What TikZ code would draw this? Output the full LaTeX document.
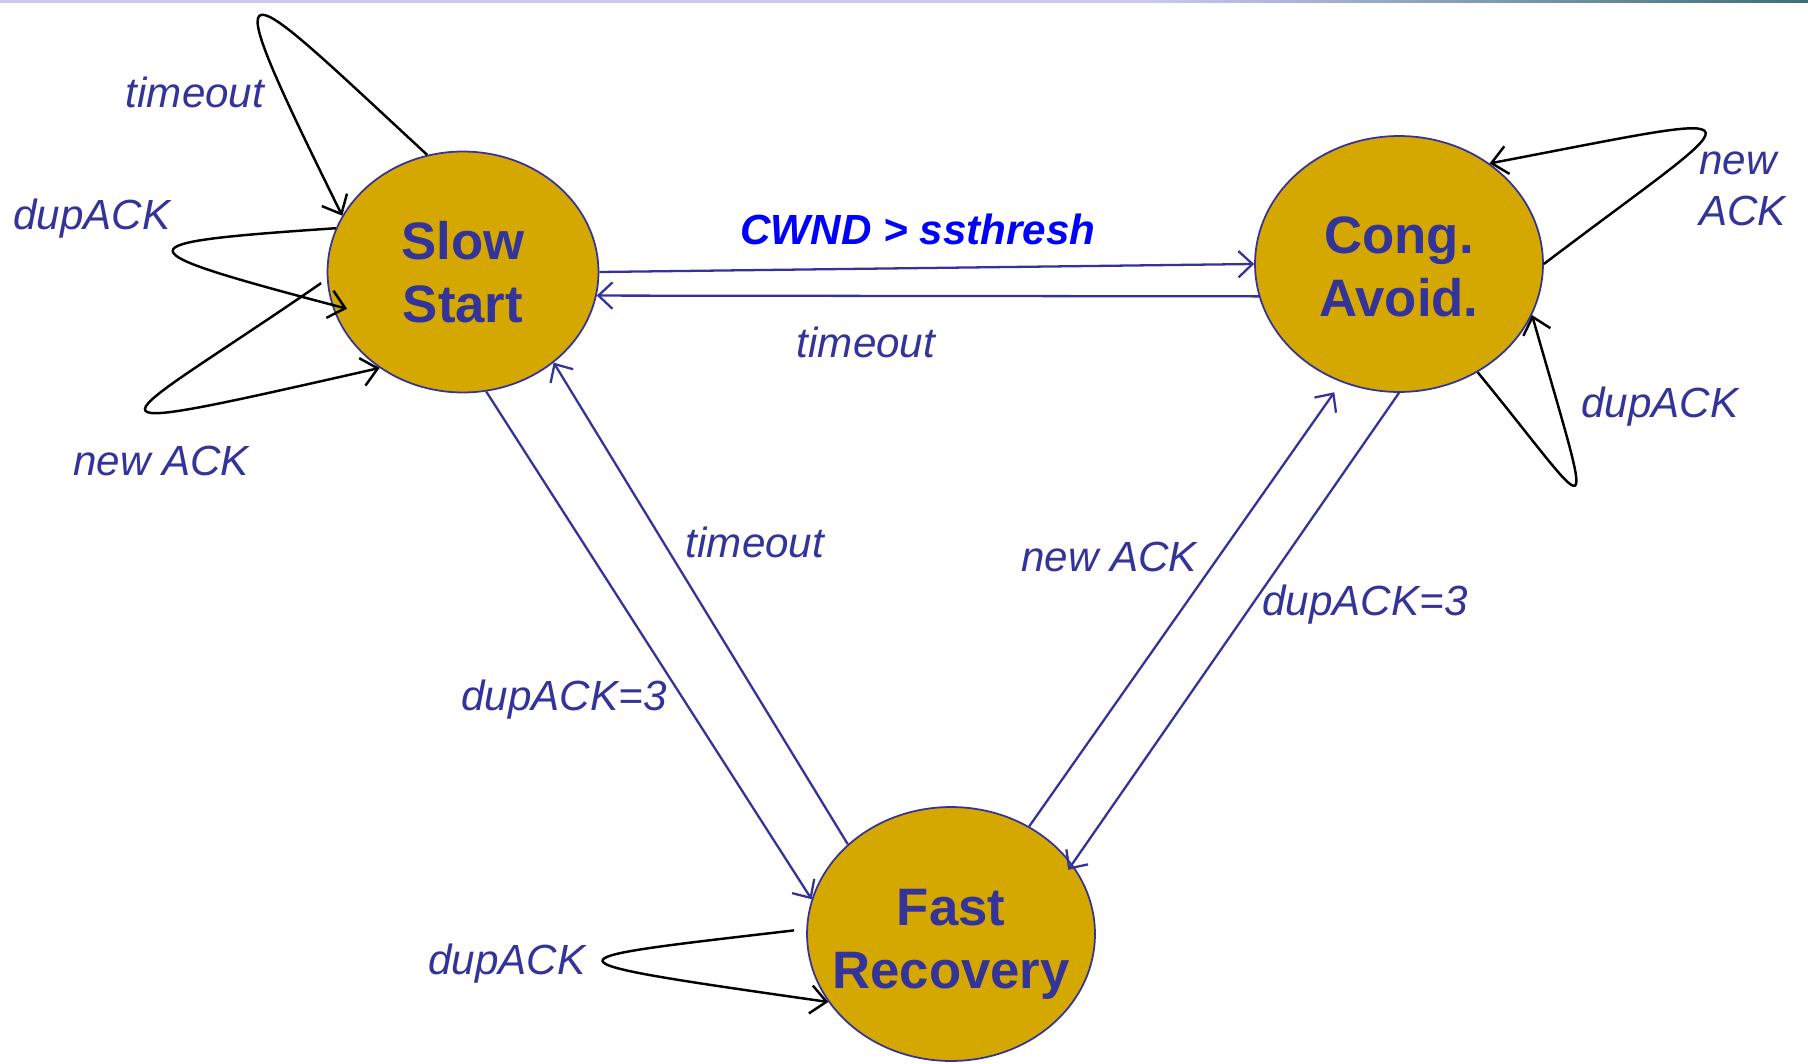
\documentclass[tikz,border=0pt]{standalone}
\usepackage{fontspec}
\setmainfont{Liberation Sans}
\usetikzlibrary{shapes.geometric,arrows.meta}
\definecolor{tcpblue}{RGB}{51,51,153}
\definecolor{tcpgold}{RGB}{212,168,0}
\definecolor{cwndblue}{RGB}{0,0,255}
\definecolor{barlilac}{RGB}{200,200,242}
\definecolor{barteal}{RGB}{60,112,116}

\begin{document}
\begin{tikzpicture}[x=0.02cm, y=-0.02cm,
    state/.style={ellipse, draw=tcpblue, line width=1pt, fill=tcpgold, inner sep=0pt},
    statetext/.style={text=tcpblue, align=center, inner sep=0pt, font=\fontsize{30}{36}\selectfont\bfseries},
    trans/.style={draw=tcpblue, line width=1.3pt, -{Straight Barb[length=8pt,width=15pt]}},
    selfloop/.style={draw=black, line width=1.4pt, -{Straight Barb[length=9pt,width=16pt]}},
    lbl/.style={text=tcpblue, align=left, inner sep=0pt, font=\fontsize{24}{29}\selectfont\itshape}]
    %Frame
    \useasboundingbox[fill=white] (0,0) rectangle (1808,1064);
    \fill[barlilac] (0,0) rectangle (1150,3);
    \shade[left color=barlilac, right color=barteal] (1150,0) rectangle (1808,3);

    %States
    \node[state, minimum width=5.42cm, minimum height=4.82cm] (ss) at (463,272) {};
    \node[state, minimum width=5.76cm, minimum height=5.12cm] (ca) at (1399,264) {};
    \node[state, minimum width=5.76cm, minimum height=5.08cm] (fr) at (951,934) {};
    \node[statetext] (sstxt) at (463,272) {Slow\\Start};
    \node[statetext] (catxt) at (1399,267) {Cong.\\Avoid.};
    \node[statetext] (frtxt) at (951,944) {Fast\\Recovery};

    %Transitions
    \draw[trans] (ss.0) -- (ca.180);
    \draw[trans] (ca.193) -- (ss.350);
    \draw[trans] (ss.281) -- (fr.166);
    \draw[trans] (fr.139) -- (ss.315);
    \draw[trans, shorten >=7pt] (fr.54) -- (ca.244);
    \draw[trans, shorten >=-4pt] (ca.270) -- (fr.30);
    \node[lbl, text=cwndblue, font=\fontsize{24}{29}\selectfont\bfseries\itshape] (cwnd) at (918,229) {CWND > ssthresh};
    \node[lbl] (catimeout) at (866,342) {timeout};
    \node[lbl] (frtimeout) at (755,542) {timeout};
    \node[lbl] (ssdup) at (564,700) {dupACK=3};
    \node[lbl] (frnew) at (1109,557) {new ACK};
    \node[lbl] (cadup) at (1365,605) {dupACK=3};

    %Self loops
    \draw[selfloop] (ss.107) .. controls (235,-23) and (206,-60) .. (ss.155);
    \draw[selfloop, shorten >=-9pt] (ss.161) .. controls (118,243) and (116,248) .. (ss.194);
    \draw[selfloop, shorten <=4pt] (ss.183) .. controls (110,429) and (44,444) .. (ss.229);
    \draw[selfloop] (ca.0) .. controls (1756,103) and (1780,108) .. (ca.48);
    \draw[selfloop] (ca.306) .. controls (1598,519) and (1598,546) .. (ca.339);
    \draw[selfloop, shorten <=7pt] (fr.178) .. controls (540,960) and (527,959) .. (fr.209);
    \node[lbl] (sstimeout) at (195,92) {timeout};
    \node[lbl] (ssdupack) at (92,219) {dupACK};
    \node[lbl] (ssnew) at (161,461) {new ACK};
    \node[lbl, anchor=west] (canew) at (1699,189) {new\\ACK};
    \node[lbl] (cadupack) at (1660,407) {dupACK};
    \node[lbl] (frdupack) at (507,964) {dupACK};
\end{tikzpicture}
\end{document}
